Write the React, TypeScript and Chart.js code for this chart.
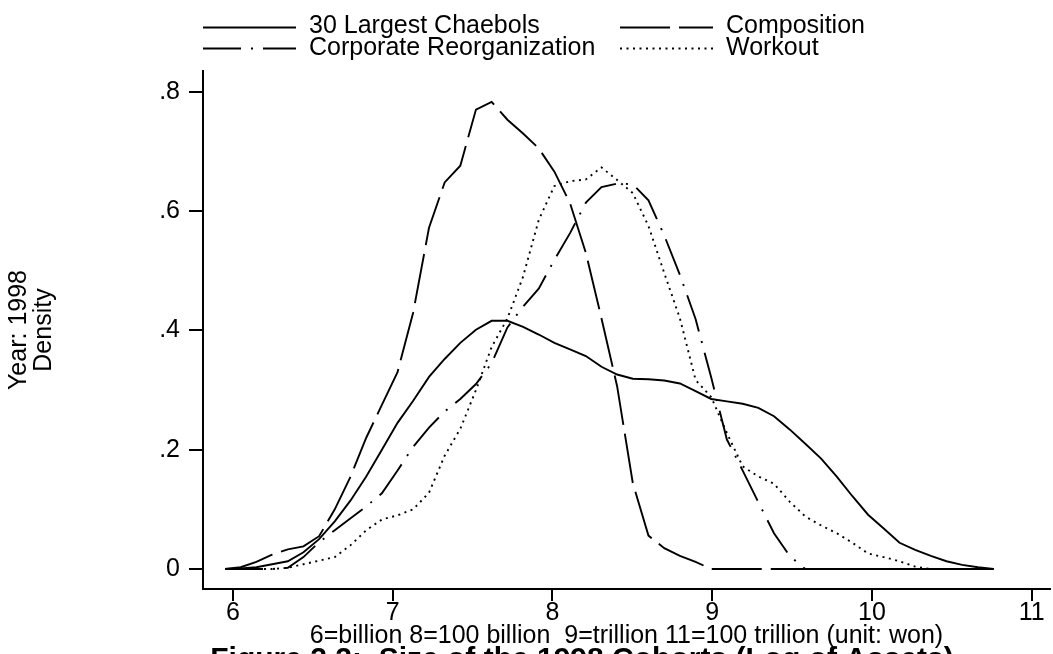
import React, { useEffect, useRef } from 'react';
import { Chart, registerables } from 'chart.js';

Chart.register(...registerables);

// ---- data ----
const gridX = [
  5.950, 6.048, 6.146, 6.245, 6.343, 6.441, 6.539, 6.637, 6.736, 6.834,
  6.932, 7.030, 7.128, 7.227, 7.325, 7.423, 7.521, 7.619, 7.718, 7.816,
  7.914, 8.012, 8.110, 8.209, 8.307, 8.405, 8.503, 8.601, 8.700, 8.798,
  8.896, 8.994, 9.092, 9.191, 9.289, 9.387, 9.485, 9.583, 9.682, 9.780,
  9.878, 9.976, 10.074, 10.173, 10.271, 10.369, 10.467, 10.565, 10.664, 10.762,
];

const chaebols = [
  0, 0.001, 0.003, 0.008, 0.013, 0.028, 0.05, 0.08, 0.115, 0.155,
  0.2, 0.245, 0.282, 0.322, 0.352, 0.379, 0.401, 0.416, 0.416, 0.406,
  0.393, 0.379, 0.368, 0.357, 0.339, 0.326, 0.319, 0.318, 0.316, 0.311,
  0.298, 0.285, 0.281, 0.277, 0.27, 0.256, 0.234, 0.21, 0.185, 0.155,
  0.122, 0.091, 0.068, 0.044, 0.032, 0.022, 0.013, 0.007, 0.003, 0,
];

const composition = [
  0, 0.003, 0.012, 0.024, 0.033, 0.038, 0.055, 0.1, 0.155, 0.22,
  0.275, 0.33, 0.43, 0.572, 0.648, 0.676, 0.77, 0.783, 0.753, 0.73,
  0.705, 0.666, 0.613, 0.53, 0.42, 0.306, 0.144, 0.056, 0.035, 0.022,
  0.012, 0, 0, 0, 0, 0, 0, 0, 0, 0,
  0, 0, 0, 0, 0, 0, 0, 0, 0, 0,
];

const corporate = [
  0, 0, 0, 0, 0.002, 0.02, 0.045, 0.065, 0.085, 0.105,
  0.127, 0.165, 0.205, 0.237, 0.264, 0.285, 0.31, 0.345, 0.405, 0.44,
  0.47, 0.518, 0.563, 0.614, 0.64, 0.646, 0.645, 0.618, 0.559, 0.493,
  0.419, 0.321, 0.217, 0.165, 0.112, 0.06, 0.022, 0, 0, 0,
  0, 0, 0, 0, 0, 0, 0, 0, 0, 0,
];

const workout = [
  0, 0, 0, 0, 0.002, 0.008, 0.014, 0.02, 0.04, 0.065,
  0.083, 0.09, 0.1, 0.128, 0.19, 0.235, 0.3, 0.372, 0.42, 0.49,
  0.585, 0.642, 0.65, 0.653, 0.673, 0.652, 0.63, 0.575, 0.496, 0.42,
  0.317, 0.288, 0.228, 0.172, 0.155, 0.143, 0.113, 0.088, 0.073, 0.06,
  0.044, 0.026, 0.02, 0.013, 0.004, 0, 0, 0, 0, 0,
];

const seriesLabels = ['30 Largest Chaebols', 'Composition', 'Corporate Reorganization', 'Workout'];
const xTicks = [6, 7, 8, 9, 10, 11];
const yTicks = [0, 0.2, 0.4, 0.6, 0.8];
const yTickLabels = ['0', '.2', '.4', '.6', '.8'];
const xTitle = '6=billion 8=100 billion  9=trillion 11=100 trillion (unit: won)';
const yTitle = ['Year: 1998', 'Density'];
const caption = 'Figure 2.2:  Size of the 1998 Cohorts (Log of Assets)';

// ---- styles ----
const W = 1053;
const H = 654;
const FONT = '"Liberation Sans", Arial, Helvetica, sans-serif';
const FS = 25;
const LINE_W = 1.9;
const dashes: number[][] = [[], [50, 9], [38, 10, 2, 10], [2, 4.5]];

const toPoints = (ys: number[]) => ys.map((y, i) => ({ x: gridX[i], y }));

const legendPlugin = {
  id: 'stataLegend',
  afterDraw(chart: any) {
    const ctx = chart.ctx as CanvasRenderingContext2D;
    ctx.save();
    chart.data.datasets.forEach((ds: any, i: number) => {
      const col = i % 2;
      const row = Math.floor(i / 2);
      const x0 = col === 0 ? 203 : 620;
      const yLine = row === 0 ? 27.5 : 48.5;
      const yText = row === 0 ? 26.5 : 48.5;
      ctx.beginPath();
      ctx.setLineDash(ds.borderDash || []);
      ctx.lineWidth = LINE_W;
      ctx.strokeStyle = '#000';
      ctx.moveTo(x0, yLine);
      ctx.lineTo(x0 + 93, yLine);
      ctx.stroke();
      ctx.setLineDash([]);
      ctx.font = `${FS}px ${FONT}`;
      ctx.fillStyle = '#000';
      ctx.textBaseline = 'middle';
      ctx.textAlign = 'left';
      ctx.fillText(ds.label, x0 + 106, yText);
    });
    ctx.font = `bold 30px ${FONT}`;
    ctx.textBaseline = 'alphabetic';
    ctx.textAlign = 'center';
    ctx.fillStyle = '#000';
    ctx.fillText(caption, 582, 668);
    ctx.restore();
  },
};

export default function App() {
  const ref = useRef<HTMLCanvasElement>(null);

  useEffect(() => {
    if (!ref.current) return;
    const series = [chaebols, composition, corporate, workout];
    const chart = new Chart(ref.current, {
      type: 'line',
      data: {
        datasets: series.map((s, i) => ({
          label: seriesLabels[i],
          data: toPoints(s),
          borderColor: '#000',
          backgroundColor: '#000',
          borderWidth: LINE_W,
          borderDash: dashes[i],
          pointRadius: 0,
          tension: 0,
          fill: false,
        })),
      },
      options: {
        responsive: false,
        animation: false,
        devicePixelRatio: 1,
        events: [],
        layout: { padding: { left: 0, right: 3, top: 71, bottom: 0 } },
        plugins: {
          legend: { display: false },
          tooltip: { enabled: false },
        },
        scales: {
          x: {
            type: 'linear',
            position: 'bottom',
            min: 5.812,
            max: 11.115,
            afterBuildTicks: (s: any) => {
              s.ticks = xTicks.map((v) => ({ value: v }));
            },
            afterFit: (s: any) => {
              s.height = 65;
            },
            grid: {
              drawOnChartArea: false,
              drawTicks: true,
              tickLength: 12,
              color: '#000',
              lineWidth: 2,
            },
            border: { display: true, color: '#000', width: 2 },
            ticks: {
              color: '#000',
              font: { family: FONT, size: FS, lineHeight: 1 },
              padding: 0,
              maxRotation: 0,
              autoSkip: false,
              callback: (v: any) => String(v),
            },
            title: {
              display: true,
              text: xTitle,
              color: '#000',
              font: { family: FONT, size: FS, lineHeight: 1.2 },
              padding: { top: 0, bottom: 2.5 },
            },
          },
          y: {
            type: 'linear',
            position: 'left',
            min: -0.0335,
            max: 0.8347,
            afterBuildTicks: (s: any) => {
              s.ticks = yTicks.map((v) => ({ value: v }));
            },
            afterFit: (s: any) => {
              s.width = 203;
            },
            grid: {
              drawOnChartArea: false,
              drawTicks: true,
              tickLength: 14,
              color: '#000',
              lineWidth: 2,
            },
            border: { display: true, color: '#000', width: 2 },
            ticks: {
              color: '#000',
              font: { family: FONT, size: FS, lineHeight: 1 },
              padding: 9,
              autoSkip: false,
              callback: (v: any) => {
                const k = yTicks.indexOf(v);
                return k >= 0 ? yTickLabels[k] : '';
              },
            },
            title: {
              display: true,
              text: yTitle,
              color: '#000',
              font: { family: FONT, size: FS, lineHeight: 1.0 },
              padding: { top: 6.5, bottom: 0 },
            },
          },
        },
      },
      plugins: [legendPlugin],
    } as any);
    return () => chart.destroy();
  }, []);

  return (
    <div style={{ position: 'absolute', left: 0, top: 0, width: W, height: H, background: '#fff' }}>
      <canvas ref={ref} width={W} height={H} style={{ display: 'block' }} />
    </div>
  );
}
